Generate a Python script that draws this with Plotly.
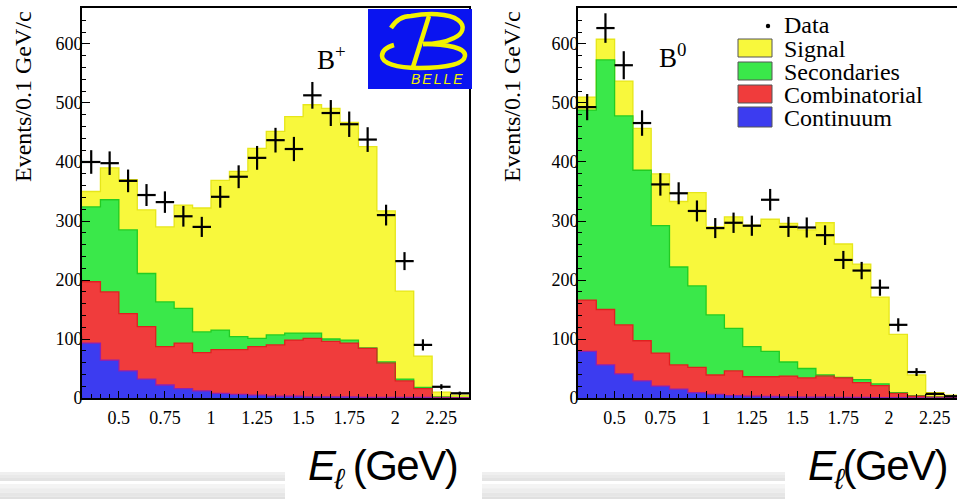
import numpy as np
import plotly.graph_objects as go

W, H = 957, 499
HV = 489  # vertical extent used for pixel -> paper conversion

# ---------------------------------------------------------------- data
E_CENTERS = [0.35, 0.45, 0.55, 0.65, 0.75, 0.85, 0.95, 1.05, 1.15, 1.25, 1.35,
             1.45, 1.55, 1.65, 1.75, 1.85, 1.95, 2.05, 2.15, 2.25, 2.35]
BIN_WIDTH = 0.1

# B+ sample: measured counts and fitted components (events / 0.1 GeV)
bp_data = [400, 398, 368, 344, 332, 308, 290, 341, 375, 407, 437,
           422, 513, 483, 464, 438, 310, 232, 90, 19, 8]
bp_continuum = [93, 64, 46, 32, 22, 16, 12, 8, 6, 5, 3,
                3, 2, 2, 2, 1, 1, 1, 1, 0, 0]
bp_combinatorial = [104, 116, 97, 89, 65, 77, 65, 74, 76, 82, 87,
                    95, 99, 94, 91, 83, 58, 28, 15, 1, 0.5]
bp_secondaries = [127, 156, 142, 90, 76, 59, 35, 33, 22, 14, 17,
                  12, 9, 4, 5, 1, 2, 3, 2, 1, 0.5]
bp_signal = [26, 54, 85, 108, 127, 175, 210, 254, 280, 322, 345,
             367, 387, 391, 369, 341, 256, 149, 53, 8, 4]

# B0 sample
b0_data = [493, 627, 564, 466, 362, 347, 317, 288, 297, 292, 336,
           290, 289, 276, 234, 216, 187, 124, 44, 7, 3]
b0_continuum = [79, 56, 41, 29, 20, 15, 9, 6, 4, 3, 2.5,
                2, 1.5, 1.5, 1, 1, 0.5, 0.5, 0, 0, 0]
b0_combinatorial = [87, 94, 83, 68, 56, 41, 43, 33, 42, 33, 33.5,
                    35, 32.5, 35.5, 33, 25, 20.5, 7.5, 3, 1.5, 0.5]
b0_secondaries = [322, 423, 354, 289, 216, 166, 138, 102, 72, 51, 43,
                  24, 16, 2, 1, 5, 3, 1, 1, 0.5, 0.5]
b0_signal = [22, 35, 59, 71, 88, 111, 158, 149, 189, 206, 224,
             235, 235, 258, 226, 196, 147, 99, 35, 7, 4]

COMPONENT_NAMES = ["Signal", "Secondaries", "Combinatorial", "Continuum"]
X_TICKS = [0.5, 0.75, 1.0, 1.25, 1.5, 1.75, 2.0, 2.25]
X_TICK_TEXT = ["0.5", "0.75", "1", "1.25", "1.5", "1.75", "2", "2.25"]
Y_TICKS = [0, 100, 200, 300, 400, 500, 600]
Y_TICK_TEXT = ["0", "100", "200", "300", "400", "500", "600"]

# ---------------------------------------------------------------- style
FILL = {"Signal": "#f8f83c", "Secondaries": "#3ae84a",
        "Combinatorial": "#f03c3c", "Continuum": "#3c3cf0"}
EDGE = {"Signal": "#e6e61a", "Secondaries": "#22cc22",
        "Combinatorial": "#e02020", "Continuum": "#9020b0"}
SERIF = "Liberation Serif, Times New Roman, serif"
SANS = "Liberation Sans, Arial, Helvetica, sans-serif"


def px(x, y):
    """pixel position -> paper coordinates"""
    return x / W, 1 - y / HV


def svg_path(cmds):
    out = []
    for cmd, *pts in cmds:
        coords = " ".join("%.5f,%.5f" % px(*p) for p in pts)
        out.append(cmd + " " + coords)
    return " ".join(out)


fig = go.Figure()

panels = [
    ("x", "y", bp_data, [bp_continuum, bp_combinatorial, bp_secondaries, bp_signal]),
    ("x2", "y2", b0_data, [b0_continuum, b0_combinatorial, b0_secondaries, b0_signal]),
]
edges = [c - BIN_WIDTH / 2 for c in E_CENTERS] + [E_CENTERS[-1] + BIN_WIDTH / 2]

for xa, ya, data, comps in panels:
    names = ["Continuum", "Combinatorial", "Secondaries", "Signal"]
    for name, vals in zip(names, comps):
        fig.add_trace(go.Bar(
            x=E_CENTERS, y=vals, width=BIN_WIDTH, name=name,
            marker=dict(color=FILL[name], line=dict(width=0)),
            xaxis=xa, yaxis=ya, showlegend=False, hoverinfo="skip"))
    # outlines of the stacked histograms
    tops = np.cumsum(np.array(comps, dtype=float), axis=0)
    for name, top in reversed(list(zip(names, tops))):
        fig.add_trace(go.Scatter(
            x=edges, y=list(top) + [top[-1]], mode="lines",
            line=dict(shape="hv", color=EDGE[name], width=1.3),
            xaxis=xa, yaxis=ya, showlegend=False, hoverinfo="skip"))
    # measured points with Poisson errors
    d = np.array(data, dtype=float)
    fig.add_trace(go.Scatter(
        x=E_CENTERS, y=data, mode="markers", name="Data",
        marker=dict(size=2, color="black"),
        error_x=dict(type="constant", value=BIN_WIDTH / 2, thickness=2.2, width=0, color="black"),
        error_y=dict(type="data", array=np.sqrt(d), thickness=2.2, width=0, color="black"),
        xaxis=xa, yaxis=ya, showlegend=False))

tickfont = dict(family=SERIF, size=18, color="black")


def make_xaxis(domain, rng, anchor):
    return dict(domain=domain, range=rng, anchor=anchor,
                tickmode="array", tickvals=X_TICKS, ticktext=X_TICK_TEXT,
                ticks="inside", ticklen=7, tickwidth=1.3, tickcolor="black",
                minor=dict(tickmode="linear", tick0=0.3, dtick=0.05, ticks="inside",
                           ticklen=4, tickwidth=1, tickcolor="black"),
                showline=True, linecolor="black", linewidth=1.6, mirror=True,
                showgrid=False, zeroline=False, tickfont=tickfont,
                ticklabelstandoff=3, fixedrange=True)


def make_yaxis(anchor, mirror):
    return dict(domain=[1 - 398 / HV, 1 - 8 / HV], range=[0, 661], anchor=anchor,
                tickmode="array", tickvals=Y_TICKS, ticktext=Y_TICK_TEXT,
                ticks="inside", ticklen=8, tickwidth=1.3, tickcolor="black",
                minor=dict(tickmode="linear", tick0=0, dtick=20, ticks="inside",
                           ticklen=4, tickwidth=1, tickcolor="black"),
                showline=True, linecolor="black", linewidth=1.6, mirror=mirror,
                showgrid=False, zeroline=False, tickfont=tickfont,
                ticklabelstandoff=-6, fixedrange=True)


x2_right = 0.3 + (W - 578) / 183.0

fig.update_layout(
    width=W, height=H, margin=dict(l=0, r=0, t=0, b=0),
    paper_bgcolor="white", plot_bgcolor="white",
    barmode="stack", bargap=0, showlegend=False,
    xaxis=make_xaxis([82 / W, 469 / W], [0.3, 2.4], "y"),
    yaxis=make_yaxis("x", True),
    xaxis2=make_xaxis([578 / W, 1.0], [0.3, x2_right], "y2"),
    yaxis2=make_yaxis("x2", False),
)

shapes = []
annotations = []

# axis titles (ROOT style, aligned to the top of the frame)
for xc in (23, 512):
    x, y = px(xc, 97)
    annotations.append(dict(x=x, y=y, xref="paper", yref="paper", text="Events/0.1 GeV/c",
                            textangle=-90, showarrow=False, xanchor="center", yanchor="middle",
                            font=dict(family=SERIF, size=24, color="black")))

# panel labels
for (xc, yc), txt in (((331, 58), "B<sup>+</sup>"), ((672, 56), "B<sup>0</sup>")):
    x, y = px(xc, yc)
    annotations.append(dict(x=x, y=y, xref="paper", yref="paper", text=txt, showarrow=False,
                            xanchor="center", yanchor="middle",
                            font=dict(family=SERIF, size=27, color="black")))

# legend (drawn in the B0 frame)
x, y = px(782, 25)
annotations.append(dict(x=x, y=y, xref="paper", yref="paper", text="Data", showarrow=False,
                        xanchor="left", yanchor="middle",
                        font=dict(family=SERIF, size=24, color="black")))
cx, cy = 768, 26
x0, y0 = px(cx - 2.2, cy - 2.2)
x1, y1 = px(cx + 2.2, cy + 2.2)
shapes.append(dict(type="circle", xref="paper", yref="paper", x0=x0, y0=y0, x1=x1, y1=y1,
                   fillcolor="black", line=dict(width=0), layer="above"))
legend_rows = [(39, 57), (62, 80), (85, 103), (107, 127)]
for name, (ya, yb) in zip(COMPONENT_NAMES, legend_rows):
    x0, y0 = px(738, ya)
    x1, y1 = px(772, yb)
    shapes.append(dict(type="rect", xref="paper", yref="paper", x0=x0, y0=y0, x1=x1, y1=y1,
                       fillcolor=FILL[name], line=dict(color="#555555", width=1), layer="above"))
    x, y = px(782, (ya + yb) / 2 + 1)
    annotations.append(dict(x=x, y=y, xref="paper", yref="paper", text=name, showarrow=False,
                            xanchor="left", yanchor="middle",
                            font=dict(family=SERIF, size=24, color="black")))

# Belle logo
x0, y0 = px(368, 9)
x1, y1 = px(472, 89)
shapes.append(dict(type="rect", xref="paper", yref="paper", x0=x0, y0=y0, x1=x1, y1=y1,
                   fillcolor="#0a14f0", line=dict(width=0), layer="above"))
logo_yellow = "#f2f200"
b_top = svg_path([("M", (391, 28)), ("C", (396, 20), (403, 16), (411, 16)),
                  ("C", (427, 13), (449, 13), (458, 20)),
                  ("C", (466, 26), (463, 34), (454, 38)),
                  ("C", (446, 42), (434, 44), (423, 44))])
b_bottom = svg_path([("M", (423, 44)), ("C", (448, 44), (466, 48), (465, 56)),
                     ("C", (464, 64), (447, 68), (419, 68)),
                     ("C", (396, 68), (382, 63), (382, 56)),
                     ("C", (382, 51), (387, 47), (394, 45))])
b_stem = svg_path([("M", (413, 67)), ("L", (429, 16))])
for p in (b_top, b_bottom, b_stem):
    shapes.append(dict(type="path", xref="paper", yref="paper", path=p,
                       line=dict(color=logo_yellow, width=4.5),
                       fillcolor="rgba(0,0,0,0)", layer="above"))
x, y = px(438, 79)
annotations.append(dict(x=x, y=y, xref="paper", yref="paper",
                        text='<i><span style="letter-spacing:2px">BELLE</span></i>',
                        showarrow=False, xanchor="center", yanchor="middle",
                        font=dict(family=SANS, size=14, color=logo_yellow)))

# decorative grey bars under each panel
bar_bands = [
    (472, 481, ["#efefef", "#e9e9e9", "#e3e3e3"]),
    (484, 505, ["#f4f4f4", "#ededed", "#e6e6e6", "#e0e0e0", "#dcdcdc"]),
]
for xa, xb in ((0, 285), (482, 785)):
    for ya, yb, cols in bar_bands:
        n = len(cols)
        for i, c in enumerate(cols):
            s0 = ya + (yb - ya) * i / n
            s1 = ya + (yb - ya) * (i + 1) / n
            x0, y0 = px(xa, s0)
            x1, y1 = px(xb, s1)
            shapes.append(dict(type="rect", xref="paper", yref="paper", x0=x0, y0=y0,
                               x1=x1, y1=y1, fillcolor=c, line=dict(width=0), layer="below"))

# energy axis labels
label_style = '<span style="letter-spacing:-1.5px">%s</span>'
for xl, txt in ((306, "<i>E</i><sub><i>ℓ</i></sub> (GeV)"), (806, "<i>E</i><sub><i>ℓ</i></sub>(GeV)")):
    x, y = px(xl, 468)
    annotations.append(dict(x=x, y=y, xref="paper", yref="paper", text=label_style % txt,
                            showarrow=False, xanchor="left", yanchor="middle",
                            font=dict(family=SANS, size=42, color="black")))

fig.update_layout(shapes=shapes, annotations=annotations)
fig.write_html("out.html")
